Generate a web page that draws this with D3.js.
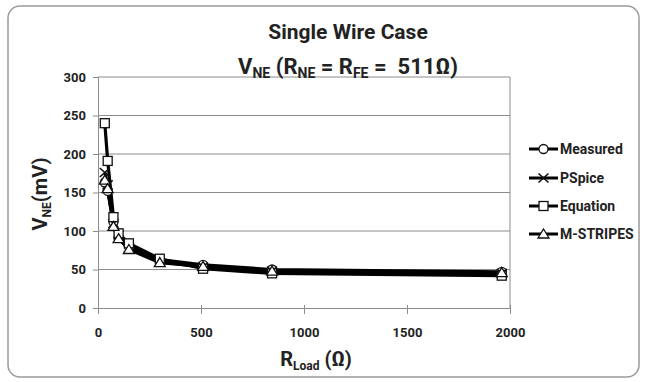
<!DOCTYPE html>
<html><head><meta charset="utf-8">
<script src="https://cdn.jsdelivr.net/npm/d3@7"></script>
<style>body{margin:0;background:#fff}svg{display:block}text{font-family:Roboto,"Open Sans",sans-serif;font-weight:bold;fill:#222}</style>
</head><body><svg id="c" width="648" height="382"></svg>
<script>
const rLoad = [33, 47, 75, 100, 150, 300, 510, 845, 1960];
const measured = [163, 152, 112, 92, 80, 63, 56, 50, 47];
const pspice = [176, 160, 110, 95, 78, 60, 53, 48, 45];
const equation = [240, 191, 118, 97, 84, 64, 51, 45, 42];
const mstripes = [166, 155, 106, 90, 76, 59, 54, 48, 46];
const seriesNames = ["Measured", "PSpice", "Equation", "M-STRIPES"];
const seriesMarkers = ["circle", "cross", "square", "triangle"];
const xTicks = [0, 500, 1000, 1500, 2000];
const yTicks = [0, 50, 100, 150, 200, 250, 300];

const FF = "Roboto,'Open Sans',sans-serif";
const svg = d3.select("#c");
svg.append("rect").attr("x",8).attr("y",6).attr("width",631).attr("height",371).attr("rx",12)
  .attr("fill","#fff").attr("stroke","#9a9a9a").attr("stroke-width",1.5);

const L=98,R=510,T=77,B=308;
const x=d3.scaleLinear().domain([0,2000]).range([L,R]);
const y=d3.scaleLinear().domain([0,300]).range([B,T]);

svg.append("g").selectAll("line").data(yTicks.slice(1)).join("line")
  .attr("x1",L).attr("x2",R).attr("y1",d=>y(d)).attr("y2",d=>y(d)).attr("stroke","#8c8c8c").attr("stroke-width",1);
svg.append("line").attr("x1",R).attr("x2",R).attr("y1",T).attr("y2",B).attr("stroke","#8c8c8c");

const yAx=svg.append("g").attr("transform",`translate(${L},0)`).call(d3.axisLeft(y).tickValues(yTicks).tickSize(5).tickPadding(7));
const xAx=svg.append("g").attr("transform",`translate(0,${B})`).call(d3.axisBottom(x).tickValues(xTicks).tickFormat(d3.format("d")).tickSize(6).tickPadding(14));
[yAx,xAx].forEach(a=>{a.select(".domain").attr("stroke","#8c8c8c");a.selectAll(".tick line").attr("stroke","#8c8c8c");
  a.selectAll("text").style("font-family",FF).style("font-weight","bold").style("font-size","13px").attr("fill","#222");});
xAx.selectAll(".tick line").attr("y1",-3);

const data=[measured,pspice,equation,mstripes];
const line=d3.line().x((d,i)=>x(rLoad[i])).y(d=>y(d));
function marker(g,type,cx,cy){
  if(type==="circle") g.append("circle").attr("cx",cx).attr("cy",cy).attr("r",4.5).attr("fill","#fff").attr("stroke","#111").attr("stroke-width",1.3);
  else if(type==="square") g.append("rect").attr("x",cx-4.5).attr("y",cy-4.5).attr("width",9).attr("height",9).attr("fill","#fff").attr("stroke","#111").attr("stroke-width",1.3);
  else if(type==="triangle") g.append("path").attr("d",`M${cx},${cy-5}L${cx+5.5},${cy+4}L${cx-5.5},${cy+4}Z`).attr("fill","#fff").attr("stroke","#111").attr("stroke-width",1.3);
  else g.append("path").attr("d",`M${cx-5},${cy-4.5}L${cx+5},${cy+4.5}M${cx-5},${cy+4.5}L${cx+5},${cy-4.5}`).attr("stroke","#111").attr("stroke-width",1.6);
}
data.forEach((s,k)=>{
  svg.append("path").datum(s).attr("d",line).attr("fill","none").attr("stroke","#000").attr("stroke-width",3.2);
});
data.forEach((s,k)=>{
  const g=svg.append("g");
  s.forEach((v,i)=>marker(g,seriesMarkers[k],x(rLoad[i]),y(v)));
});

const legY=[149,178,206,234];
seriesNames.forEach((n,k)=>{
  const g=svg.append("g");
  g.append("line").attr("x1",529).attr("x2",558).attr("y1",legY[k]).attr("y2",legY[k]).attr("stroke","#000").attr("stroke-width",3);
  marker(g,seriesMarkers[k],543.5,legY[k]);
  g.append("text").attr("x",560).attr("y",legY[k]+5).style("font-size","14px").text(n);
});

svg.append("text").attr("x",348).attr("y",39).attr("text-anchor","middle").style("font-size","21px").text("Single Wire Case");
const t2=svg.append("text").attr("x",348).attr("y",74).attr("text-anchor","middle").style("font-size","22px");
t2.append("tspan").text("V");
t2.append("tspan").text("NE").style("font-size","14px").attr("dy",4);
t2.append("tspan").text(" (R").attr("dy",-4);
t2.append("tspan").text("NE").style("font-size","14px").attr("dy",4);
t2.append("tspan").text(" = R").attr("dy",-4);
t2.append("tspan").text("FE").style("font-size","14px").attr("dy",4);
t2.append("tspan").text(" =  511Ω)").attr("dy",-4).attr("xml:space","preserve");

const xt=svg.append("text").attr("x",316).attr("y",366).attr("text-anchor","middle").style("font-size","20px");
xt.append("tspan").text("R");
xt.append("tspan").text("Load").style("font-size","12px").attr("dy",4);
xt.append("tspan").text(" (Ω)").attr("dy",-4);

const yt=svg.append("text").attr("transform","translate(47,194) rotate(-90)").attr("text-anchor","middle").style("font-size","20px");
yt.append("tspan").text("V");
yt.append("tspan").text("NE").style("font-size","12px").attr("dy",4);
yt.append("tspan").text("(mV)").attr("dy",-4);
</script></body></html>
